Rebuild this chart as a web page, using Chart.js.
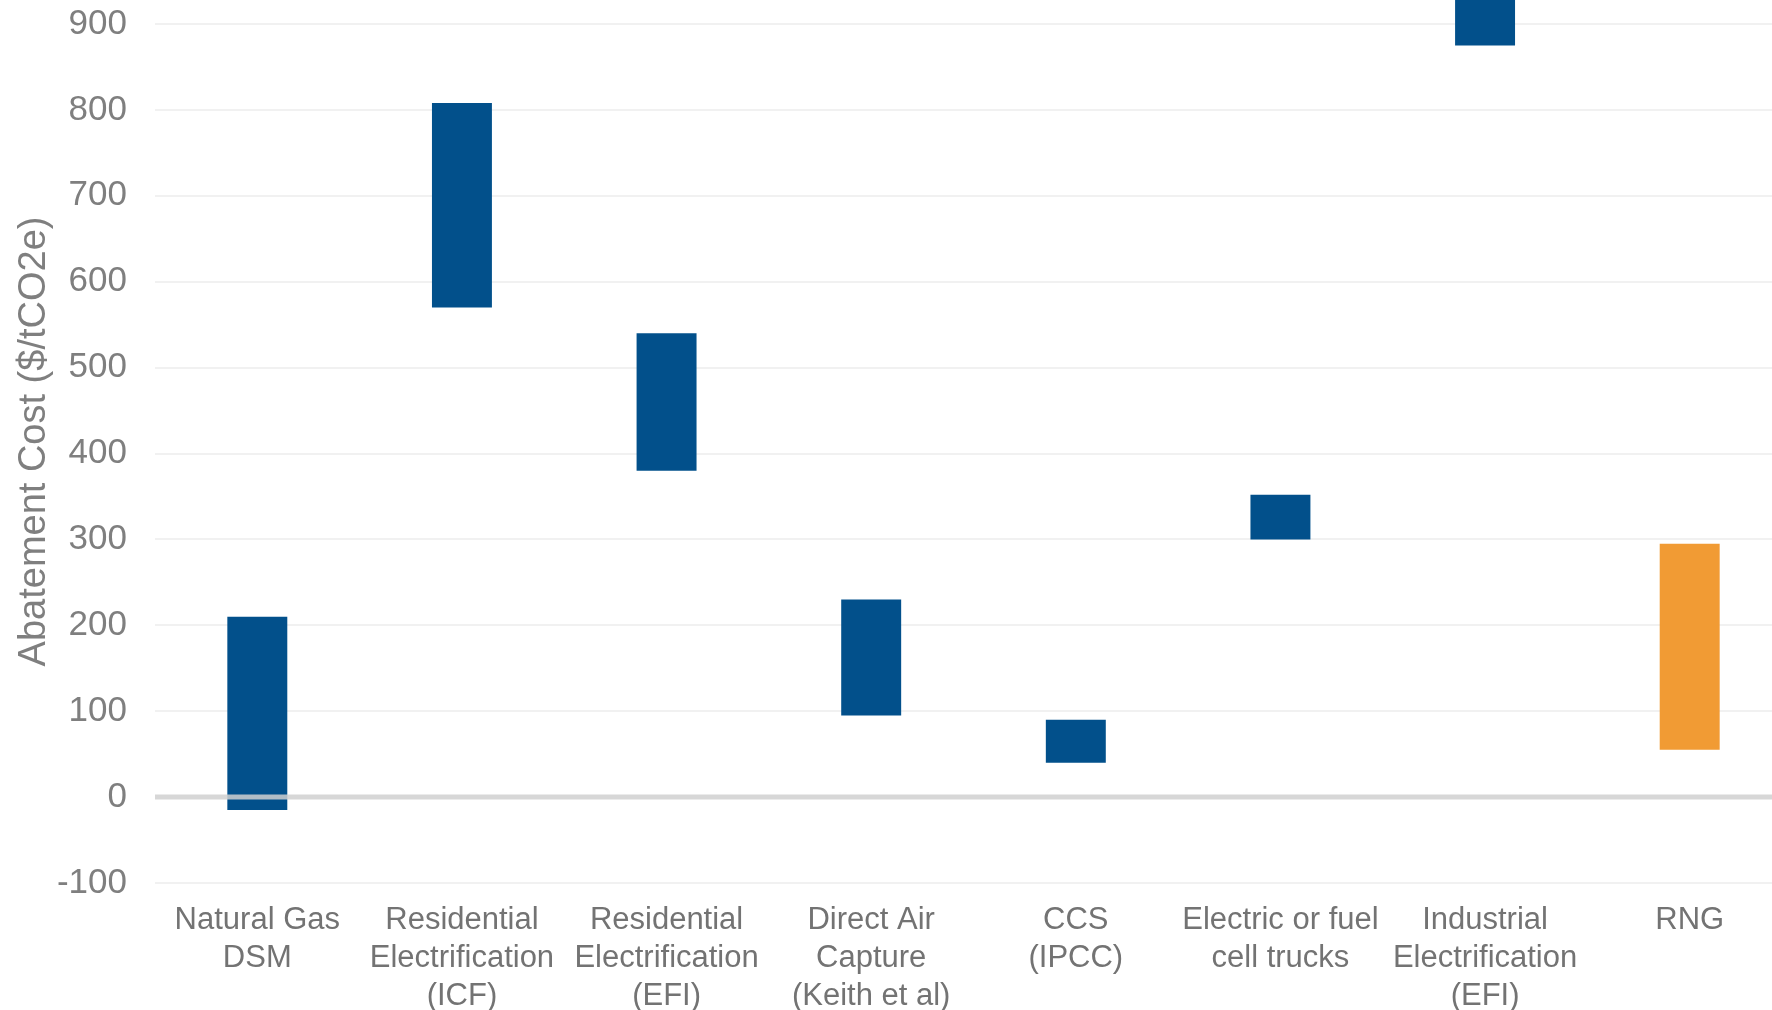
<!DOCTYPE html>
<html>
<head>
<meta charset="utf-8">
<script src="https://cdn.jsdelivr.net/npm/chart.js@4"></script>
<style>
  body { margin: 0; background: #fff; overflow: hidden; }
  #wrap { position: relative; width: 1800px; height: 1010px; }
</style>
</head>
<body>
<div id="wrap"><canvas id="myChart"></canvas></div>
<script>
const categories = [
    ['Natural Gas', 'DSM'],
    ['Residential', 'Electrification', '(ICF)'],
    ['Residential', 'Electrification', '(EFI)'],
    ['Direct Air', 'Capture', '(Keith et al)'],
    ['CCS', '(IPCC)'],
    ['Electric or fuel', 'cell trucks'],
    ['Industrial', 'Electrification', '(EFI)'],
    ['RNG'],
];
const lowCost = [-15, 570, 380, 95, 40, 300, 875, 55];
const highCost = [210, 808, 540, 230, 90, 352, 1000, 295];
const barColors = ['#02508b', '#02508b', '#02508b', '#02508b', '#02508b', '#02508b', '#02508b', '#f19b34'];
const yTicks = [-100, 0, 100, 200, 300, 400, 500, 600, 700, 800, 900];

Chart.defaults.font.family = '"Liberation Sans", Arial, sans-serif';

// zero line sits on top of the bars
const zeroLine = {
    id: 'zeroLine',
    afterDatasetsDraw(chart) {
        const { ctx, chartArea, scales } = chart;
        const y = scales.y.getPixelForValue(0);
        ctx.save();
        ctx.strokeStyle = 'rgba(208, 208, 208, 0.85)';
        ctx.lineWidth = 5;
        ctx.beginPath();
        ctx.moveTo(chartArea.left, y);
        ctx.lineTo(chartArea.right, y);
        ctx.stroke();
        ctx.restore();
    },
};

const ctx = document.getElementById('myChart').getContext('2d');
const myChart = new Chart(ctx, {
    type: 'bar',
    data: {
        labels: categories,
        datasets: [{
            label: 'Abatement Cost',
            data: lowCost.map((low, i) => [low, highCost[i]]),
            backgroundColor: barColors,
            borderWidth: 0,
            borderSkipped: false,
            barPercentage: 0.293,
            categoryPercentage: 1,
        }],
    },
    options: {
        responsive: true,
        maintainAspectRatio: false,
        animation: false,
        layout: { padding: { top: 0, right: 8, bottom: 0, left: 0 } },
        plugins: {
            legend: { display: false },
            tooltip: { enabled: false },
        },
        scales: {
            x: {
                border: { display: false },
                grid: { display: false, drawTicks: false },
                ticks: {
                    color: '#737373',
                    padding: 19,
                    maxRotation: 0,
                    autoSkip: false,
                    font: { size: 31, lineHeight: 1.22 },
                },
                afterFit: scale => {
                    scale.height = 127;
                    scale.paddingLeft = 0;
                    scale.paddingRight = 0;
                },
            },
            y: {
                min: -100,
                max: 928,
                border: { display: false },
                grid: {
                    drawTicks: false,
                    lineWidth: 2,
                    color: c => (c.tick && c.tick.value === 0 ? 'rgba(0,0,0,0)' : '#f1f1f1'),
                },
                ticks: {
                    stepSize: 100,
                    color: '#7f7f7f',
                    padding: 28,
                    font: { size: 35 },
                },
                afterBuildTicks: scale => {
                    scale.ticks = yTicks.map(v => ({ value: v }));
                },
                afterFit: scale => {
                    scale.width = 155;
                    scale.paddingTop = 0;
                    scale.paddingBottom = 0;
                },
                title: {
                    display: true,
                    text: 'Abatement Cost ($/tCO2e)',
                    color: '#7f7f7f',
                    font: { size: 38 },
                    padding: { top: 12, bottom: 0 },
                },
            },
        },
    },
    plugins: [zeroLine],
});
</script>
</body>
</html>
